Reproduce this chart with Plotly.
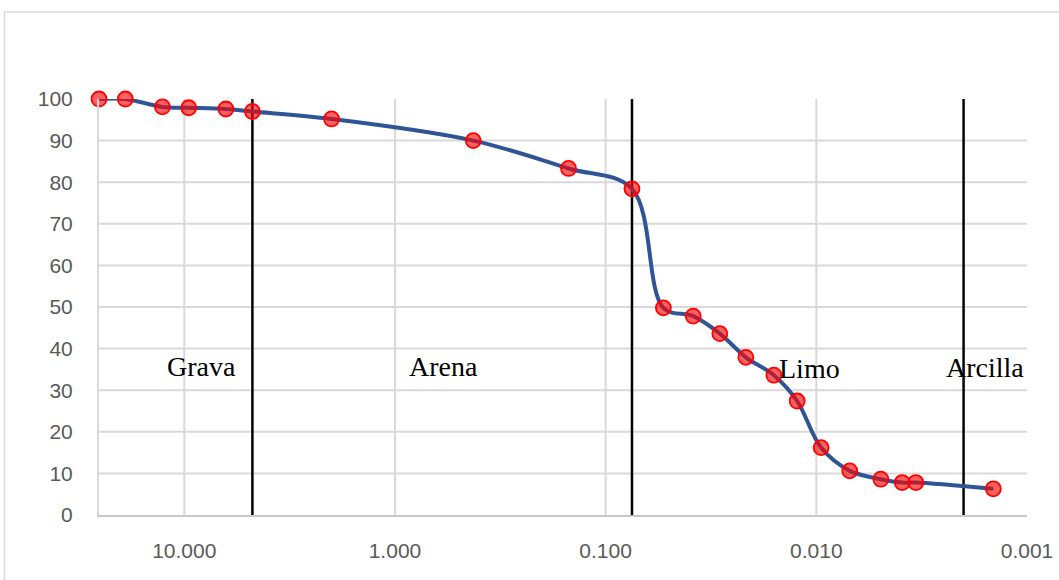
import math
import plotly.graph_objects as go

# Grain-size distribution: particle diameter (mm) vs percent passing
diameter_mm = [25.4, 19.05, 12.7, 9.525, 6.35, 4.75, 2.0, 0.425, 0.15, 0.075,
               0.0532, 0.0384, 0.0287, 0.0216, 0.0159, 0.01233, 0.00949,
               0.00694, 0.00494, 0.00391, 0.00337, 0.001445]
percent_passing = [100.0, 100.0, 98.1, 97.9, 97.6, 97.0, 95.2, 90.0, 83.3, 78.4,
                   49.8, 47.8, 43.6, 37.9, 33.6, 27.4, 16.2,
                   10.6, 8.6, 7.8, 7.8, 6.3]

# Soil-class boundaries (mm) and class names
boundaries_mm = [4.75, 0.075, 0.002]
class_names = ["Grava", "Arena", "Limo", "Arcilla"]
class_label_x = [12.3, 0.875, 0.0154, 0.00248]   # left edge of each label, mm
class_label_y = [31.6, 31.4, 30.9, 31.3]

x_ticks = [10, 1, 0.1, 0.01, 0.001]
x_tick_text = ["10.000", "1.000", "0.100", "0.010", "0.001"]
y_ticks = list(range(0, 101, 10))
x_max, x_min = 25.4, 0.001

GRID = "#D9D9D9"
TICK_FONT = dict(family="Liberation Sans, Arial, sans-serif", size=21, color="#595959")

fig = go.Figure()

# vertical boundary lines between soil classes
for b in boundaries_mm:
    fig.add_trace(go.Scatter(
        x=[b, b], y=[0, 100], mode="lines",
        line=dict(color="black", width=2.5),
        hoverinfo="skip", showlegend=False,
    ))

# gradation curve
fig.add_trace(go.Scatter(
    x=diameter_mm, y=percent_passing,
    mode="lines+markers",
    line=dict(color="#2F5597", width=4, shape="spline", smoothing=1.0),
    marker=dict(size=15, color="rgba(255,0,0,0.62)",
                line=dict(color="#FF0000", width=1.8)),
    cliponaxis=False,
    showlegend=False,
))

shapes = []
# horizontal gridlines (none on the top edge)
for v in y_ticks[1:-1]:
    shapes.append(dict(type="line", xref="paper", yref="y", x0=0, x1=1, y0=v, y1=v,
                       line=dict(color=GRID, width=2), layer="below"))
# vertical gridlines at each decade inside the plot
for v in x_ticks[:-1]:
    shapes.append(dict(type="line", xref="x", yref="y", x0=v, x1=v, y0=0, y1=100,
                       line=dict(color=GRID, width=2), layer="below"))
# outer chart border
shapes.append(dict(type="rect", xref="paper", yref="paper",
                   x0=(4.5 - 99) / 928, x1=(1080 - 99) / 928,
                   y0=-(600 - 515) / 416, y1=(515 - 12) / 416,
                   line=dict(color="#D9D9D9", width=1.5), fillcolor="rgba(0,0,0,0)",
                   layer="below"))

annotations = []
for name, lx, ly in zip(class_names, class_label_x, class_label_y):
    annotations.append(dict(
        x=math.log10(lx), y=ly, xref="x", yref="y", text=name, showarrow=False,
        xanchor="left", yanchor="bottom",
        font=dict(family="Liberation Serif, Times New Roman, serif", size=28, color="black"),
    ))

fig.update_layout(
    width=1059, height=580,
    margin=dict(l=99, r=32, t=99, b=65, autoexpand=False),
    paper_bgcolor="white", plot_bgcolor="white",
    shapes=shapes, annotations=annotations,
    showlegend=False,
    xaxis=dict(
        type="log", range=[math.log10(x_max), math.log10(x_min)],
        tickvals=x_ticks, ticktext=x_tick_text, tickfont=TICK_FONT,
        showgrid=False, zeroline=False, automargin=False,
        showline=True, linecolor="#C8C8C8", linewidth=2,
        ticks="outside", ticklen=16, tickcolor="rgba(0,0,0,0)",
    ),
    yaxis=dict(
        range=[0, 100], tickvals=y_ticks, tickfont=TICK_FONT,
        showgrid=False, zeroline=False, automargin=False,
        showline=True, linecolor=GRID, linewidth=2,
        ticks="outside", ticklen=20, tickcolor="rgba(0,0,0,0)",
    ),
)

fig.write_html("out.html")
